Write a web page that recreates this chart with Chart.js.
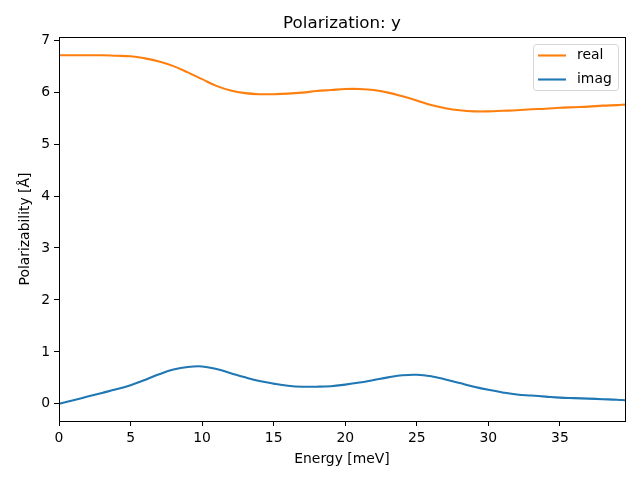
<!DOCTYPE html>
<html>
<head>
<meta charset="utf-8">
<script src="https://cdn.jsdelivr.net/npm/chart.js@4/dist/chart.umd.min.js"></script>
<style>
html,body{margin:0;padding:0;background:#fff;}
#wrap{width:640px;height:480px;}
</style>
</head>
<body>
<div id="wrap"><canvas id="c" width="640" height="480"></canvas></div>
<script>
const energy = [0,1,2,3,4,5,6,7,8,9,10,11,12,13,14,15,16,17,18,19,20,21,22,23,24,25,26,27,28,29,30,31,32,33,34,35,36,37,38,39,39.55];
const realValues = [6.71,6.71,6.71,6.71,6.70,6.69,6.65,6.59,6.50,6.38,6.25,6.12,6.03,5.98,5.96,5.96,5.97,5.99,6.02,6.04,6.06,6.06,6.04,5.99,5.92,5.84,5.75,5.69,5.65,5.63,5.63,5.64,5.65,5.67,5.68,5.70,5.71,5.72,5.74,5.75,5.76];
const imagValues = [0.00,0.07,0.14,0.21,0.28,0.36,0.46,0.57,0.66,0.71,0.72,0.67,0.59,0.51,0.44,0.39,0.35,0.33,0.33,0.34,0.37,0.41,0.46,0.51,0.55,0.56,0.53,0.47,0.40,0.33,0.27,0.22,0.18,0.16,0.14,0.12,0.11,0.10,0.09,0.08,0.07];
const seriesLabels = ['real','imag'];
const seriesColors = ['#ff7f0e','#1f77b4'];
const chartTitle = 'Polarization: y';
const xTitle = 'Energy [meV]';
const yTitle = 'Polarizability [Å]';

const FONT = "'DejaVu Sans', sans-serif";
const toPts = (vals) => energy.map((x,i)=>({x:x,y:vals[i]}));

const frame = {
  id:'frame',
  afterDatasetsDraw(chart){
    const {ctx, chartArea:a} = chart;
    ctx.save();
    ctx.strokeStyle='#000'; ctx.lineWidth=1;
    ctx.strokeRect(Math.round(a.left)+0.5, Math.round(a.top)+0.5, Math.round(a.right-a.left), Math.round(a.bottom-a.top));
    ctx.restore();
  }
};
const mplLegend = {
  id:'mplLegend',
  afterDraw(chart){
    const {ctx} = chart;
    const ds = chart.data.datasets;
    ctx.save();
    const x0=533.5, y0=44.5, w=85, h=46, r=3;
    ctx.beginPath();
    ctx.moveTo(x0+r,y0); ctx.lineTo(x0+w-r,y0); ctx.quadraticCurveTo(x0+w,y0,x0+w,y0+r);
    ctx.lineTo(x0+w,y0+h-r); ctx.quadraticCurveTo(x0+w,y0+h,x0+w-r,y0+h);
    ctx.lineTo(x0+r,y0+h); ctx.quadraticCurveTo(x0,y0+h,x0,y0+h-r);
    ctx.lineTo(x0,y0+r); ctx.quadraticCurveTo(x0,y0,x0+r,y0); ctx.closePath();
    ctx.fillStyle='rgba(255,255,255,0.8)'; ctx.fill();
    ctx.strokeStyle='#d6d6d6'; ctx.lineWidth=1; ctx.stroke();
    ds.forEach((d,i)=>{
      const yy = 55.5 + i*24;
      ctx.strokeStyle=d.borderColor; ctx.lineWidth=2.1;
      ctx.beginPath(); ctx.moveTo(538,yy); ctx.lineTo(566,yy); ctx.stroke();
      ctx.fillStyle='#000'; ctx.font='13.9px '+FONT; ctx.textBaseline='middle'; ctx.textAlign='left';
      ctx.fillText(d.label, 577, yy);
    });
    ctx.restore();
  }
};

new Chart(document.getElementById('c'), {
  type:'line',
  data:{datasets:[
    {label:seriesLabels[0], data:toPts(realValues), borderColor:seriesColors[0], backgroundColor:seriesColors[0], borderWidth:2.1, pointRadius:0, tension:0.4, fill:false},
    {label:seriesLabels[1], data:toPts(imagValues), borderColor:seriesColors[1], backgroundColor:seriesColors[1], borderWidth:2.1, pointRadius:0, tension:0.4, fill:false}
  ]},
  options:{
    responsive:false, animation:false, devicePixelRatio:1,
    layout:{padding:{left:0,right:15,top:0,bottom:0}},
    plugins:{
      legend:{display:false}, tooltip:{enabled:false},
      title:{display:true, text:chartTitle, color:'#000', font:{family:FONT,size:16.7,weight:'normal'}, padding:{top:14,bottom:3}, fullSize:false}
    },
    scales:{
      x:{type:'linear', min:0, max:39.55,
        afterFit(s){s.height=59;},
        grid:{display:true, drawOnChartArea:false, drawTicks:true, tickLength:5, color:'#000'},
        border:{display:true,color:'#000',width:1},
        ticks:{stepSize:5, includeBounds:false, color:'#000', font:{family:FONT,size:13.9}, padding:4, maxRotation:0},
        title:{display:true, text:xTitle, color:'#000', font:{family:FONT,size:13.9}, padding:{top:4,bottom:12}}
      },
      y:{type:'linear', min:-0.33, max:7.06,
        afterFit(s){s.width=59;},
        grid:{display:true, drawOnChartArea:false, drawTicks:true, tickLength:5, color:'#000'},
        border:{display:true,color:'#000',width:1},
        ticks:{stepSize:1, includeBounds:false, color:'#000', font:{family:FONT,size:13.9}, padding:4},
        title:{display:true, text:yTitle, color:'#000', font:{family:FONT,size:13.9}, padding:{top:17,bottom:2}}
      }
    }
  },
  plugins:[frame, mplLegend]
});
</script>
</body>
</html>
